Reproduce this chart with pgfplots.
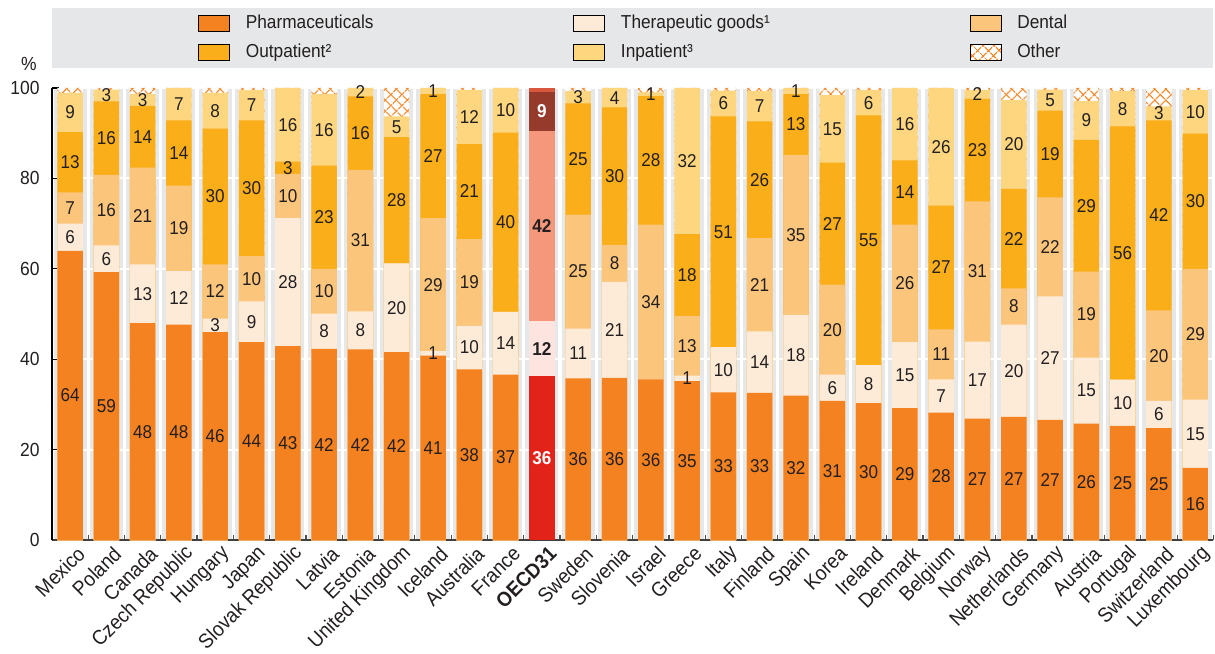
\documentclass[border=0pt]{standalone}
\usepackage{fontspec}
\setmainfont{Liberation Sans}[FakeStretch=0.92]
\usepackage{pgfplots}
\pgfplotsset{compat=1.18}
\usepackage{pgfplotstable}
\usetikzlibrary{patterns.meta}
\definecolor{cPh}{HTML}{F58220}
\definecolor{cTh}{HTML}{FDEBD7}
\definecolor{cDe}{HTML}{FBC57C}
\definecolor{cOu}{HTML}{F9AE1A}
\definecolor{cIn}{HTML}{FDD67F}
\definecolor{cBg}{HTML}{E6E7E8}
\definecolor{cTx}{HTML}{231F20}
\definecolor{oPh}{HTML}{E2231A}
\definecolor{oTh}{HTML}{FDE4DF}
\definecolor{oMid}{HTML}{F4977B}
\definecolor{oIn}{HTML}{963A2B}
\definecolor{oOt}{HTML}{D9573F}
\pgfplotsset{
  /pgf/number format/assume math mode=true,
  mybar/.style={ybar, bar width=12.75pt, bar shift=0pt, draw=none, forget plot},
  hatch/.style={fill=white,
    postaction={pattern={Lines[angle=45,distance=4pt,line width=0.65pt]}, pattern color=cPh},
    postaction={pattern={Lines[angle=-45,distance=4pt,line width=0.65pt]}, pattern color=cPh}},
  lbl/.style={sharp plot, draw=none, mark=none, forget plot, point meta=explicit,
    nodes near coords={\pgfmathprintnumber[fixed,precision=0]{\pgfplotspointmeta}},
    every node near coord/.style={anchor=center, inner sep=0pt, font=\fontsize{9.3}{10}\selectfont, text=cTx}},
}
% x: category index; ph pharmaceuticals, th therapeutic goods, de dental, ou outpatient, in inpatient, ot other
\pgfplotstableread{
x ph th de ou in ot
0 64.0 6.0 6.9 13.3 8.7 1.1
1 59.3 5.9 15.6 16.2 2.6 0.4
2 48.0 13.0 21.4 13.6 2.7 1.3
3 47.7 11.8 18.9 14.4 7.2 0.0
4 46.0 3.0 12.0 30.0 7.9 1.1
5 43.8 9.0 10.0 30.0 6.7 0.5
6 42.9 28.3 9.8 2.7 16.3 0.0
7 42.3 7.8 9.9 22.8 15.8 1.4
8 42.2 8.4 31.3 16.2 1.9 0.0
9 41.6 19.6 0.0 27.9 4.6 6.3
10 40.8 1.0 29.4 27.4 1.4 0.0
11 37.8 9.6 19.2 21.0 11.9 0.5
12 36.6 13.9 0.0 39.6 9.9 0.0
14 35.8 11.0 25.2 24.6 2.7 0.7
15 35.9 21.2 8.2 30.4 4.3 0.0
16 35.6 0.0 34.2 28.4 0.8 1.0
17 35.2 1.2 13.2 18.1 32.3 0.0
18 32.7 10.0 0.0 51.0 5.7 0.6
19 32.6 13.6 20.6 25.8 6.7 0.7
20 32.0 17.8 35.4 13.4 1.4 0.0
21 30.8 5.8 19.9 27.0 14.9 1.6
22 30.3 8.4 0.0 55.2 5.6 0.5
23 29.2 14.6 26.0 14.2 16.0 0.0
24 28.2 7.4 11.0 27.4 26.0 0.0
25 26.9 17.0 31.0 22.7 1.9 0.5
26 27.3 20.4 8.0 22.0 19.6 2.7
27 26.6 27.3 21.9 19.2 4.6 0.4
28 25.8 14.6 19.0 29.1 8.6 2.9
29 25.3 10.2 0.0 56.0 7.8 0.7
30 24.8 6.0 20.0 42.0 3.1 4.1
31 16.0 15.1 28.9 29.9 9.6 0.5
}\data
\pgfplotstableread{
x a b c d e
13 36.3 12.1 42.0 8.8 0.8
}\oecd
\begin{document}
\begin{tikzpicture}
\begin{axis}[
  scale only axis, width=581.5pt, height=226.5pt,
  xmin=-0.5, xmax=31.5, ymin=0, ymax=100,
  clip=false,
  axis x line*=bottom, axis y line*=left,
  x axis line style={-, draw=black!75, line width=1pt},
  y axis line style={-, draw=black, line width=1pt},
  axis background/.style={fill=cBg},
  xtick={0,...,31},
  xticklabels={Mexico, Poland, Canada, Czech Republic, Hungary, Japan, Slovak Republic, Latvia, Estonia, United Kingdom, Iceland, Australia, France, \textbf{OECD31}, Sweden, Slovenia, Israel, Greece, Italy, Finland, Spain, Korea, Ireland, Denmark, Belgium, Norway, Netherlands, Germany, Austria, Portugal, Switzerland, Luxembourg},
  minor xtick={-0.5,0.5,...,31.5},
  xminorgrids, minor x grid style={white, line width=1.6pt},
  ytick={0,20,...,100}, ymajorgrids, major y grid style={white, line width=1pt},
  tick align=inside,
  major x tick style={draw=none},
  minor x tick style={draw=black!70, line width=0.6pt},
  major y tick style={draw=black, line width=0.6pt},
  minor tick length=2.5pt, major tick length=3.5pt,
  xticklabel style={rotate=45, anchor=east, inner sep=0pt, xshift=0.5pt, yshift=-7.5pt, font=\fontsize{10.3}{11}\selectfont, text=cTx},
  yticklabel style={inner sep=0pt, xshift=-6pt, font=\fontsize{9.5}{10}\selectfont, text=cTx},
  legend style={at={(rel axis cs:0.1255,1.1104)}, anchor=west, draw=none, fill=none, inner sep=0pt, row sep=6pt,
    font=\fontsize{9.4}{10}\selectfont, text=cTx, nodes={inner sep=0pt},
    /tikz/every odd column/.append style={column sep=8pt},
    /tikz/every even column/.append style={column sep=100pt}},
  legend columns=3, legend cell align=left,
  legend image code/.code={\fill[#1] (0pt,-4pt) rectangle (15.5pt,4pt);},
]
\path (rel axis cs:-0.0447,1.1943) rectangle (rel axis cs:1,-0.234);
\fill[cBg] (rel axis cs:0,1.0442) rectangle (rel axis cs:1,1.1766);
\node[font=\fontsize{9.5}{10}\selectfont, text=cTx] at (rel axis cs:-0.0198,1.053) {\%};

% cumulative bars, drawn from the top segment down
\addplot[mybar, hatch] table[x=x, y expr={\thisrow{ph}+\thisrow{th}+\thisrow{de}+\thisrow{ou}+\thisrow{in}+\thisrow{ot}}] {\data};
\addplot[mybar, fill=cIn] table[x=x, y expr={\thisrow{ph}+\thisrow{th}+\thisrow{de}+\thisrow{ou}+\thisrow{in}}] {\data};
\addplot[mybar, fill=cOu] table[x=x, y expr={\thisrow{ph}+\thisrow{th}+\thisrow{de}+\thisrow{ou}}] {\data};
\addplot[mybar, fill=cDe] table[x=x, y expr={\thisrow{ph}+\thisrow{th}+\thisrow{de}}] {\data};
\addplot[mybar, fill=cTh] table[x=x, y expr={\thisrow{ph}+\thisrow{th}}] {\data};
\addplot[mybar, fill=cPh] table[x=x, y=ph] {\data};

% OECD31 bar
\addplot[mybar, fill=oOt] table[x=x, y expr={\thisrow{a}+\thisrow{b}+\thisrow{c}+\thisrow{d}+\thisrow{e}}] {\oecd};
\addplot[mybar, fill=oIn] table[x=x, y expr={\thisrow{a}+\thisrow{b}+\thisrow{c}+\thisrow{d}}] {\oecd};
\addplot[mybar, fill=oMid] table[x=x, y expr={\thisrow{a}+\thisrow{b}+\thisrow{c}}] {\oecd};
\addplot[mybar, fill=oTh] table[x=x, y expr={\thisrow{a}+\thisrow{b}}] {\oecd};
\addplot[mybar, fill=oPh] table[x=x, y=a] {\oecd};

% value labels at segment centres
\addplot[lbl, restrict expr to domain={\thisrow{ph}}{0.05:200}] table[x=x, y expr={0.5*\thisrow{ph}}, meta=ph] {\data};
\addplot[lbl, restrict expr to domain={\thisrow{th}}{0.05:200}] table[x=x, y expr={\thisrow{ph}+0.5*\thisrow{th}}, meta=th] {\data};
\addplot[lbl, restrict expr to domain={\thisrow{de}}{0.05:200}] table[x=x, y expr={\thisrow{ph}+\thisrow{th}+0.5*\thisrow{de}}, meta=de] {\data};
\addplot[lbl, restrict expr to domain={\thisrow{ou}}{0.05:200}] table[x=x, y expr={\thisrow{ph}+\thisrow{th}+\thisrow{de}+0.5*\thisrow{ou}}, meta=ou] {\data};
\addplot[lbl, restrict expr to domain={\thisrow{in}}{0.05:200}] table[x=x, y expr={\thisrow{ph}+\thisrow{th}+\thisrow{de}+\thisrow{ou}+0.5*\thisrow{in}}, meta=in] {\data};

\addplot[lbl, every node near coord/.append style={text=white, font=\fontsize{9.3}{10}\selectfont\bfseries}] table[x=x, y expr={0.5*\thisrow{a}}, meta=a] {\oecd};
\addplot[lbl, every node near coord/.append style={font=\fontsize{9.3}{10}\selectfont\bfseries}] table[x=x, y expr={\thisrow{a}+0.5*\thisrow{b}}, meta=b] {\oecd};
\addplot[lbl, every node near coord/.append style={font=\fontsize{9.3}{10}\selectfont\bfseries}] table[x=x, y expr={\thisrow{a}+\thisrow{b}+0.5*\thisrow{c}}, meta=c] {\oecd};
\addplot[lbl, every node near coord/.append style={text=white, font=\fontsize{9.3}{10}\selectfont\bfseries}] table[x=x, y expr={\thisrow{a}+\thisrow{b}+\thisrow{c}+0.5*\thisrow{d}}, meta=d] {\oecd};

\addlegendimage{fill=cPh}\addlegendentry{Pharmaceuticals}
\addlegendimage{fill=cTh}\addlegendentry{Therapeutic goods¹}
\addlegendimage{fill=cDe}\addlegendentry{Dental}
\addlegendimage{fill=cOu}\addlegendentry{Outpatient²}
\addlegendimage{fill=cIn}\addlegendentry{Inpatient³}
\addlegendimage{hatch}\addlegendentry{Other}
\end{axis}
\end{tikzpicture}
\end{document}
